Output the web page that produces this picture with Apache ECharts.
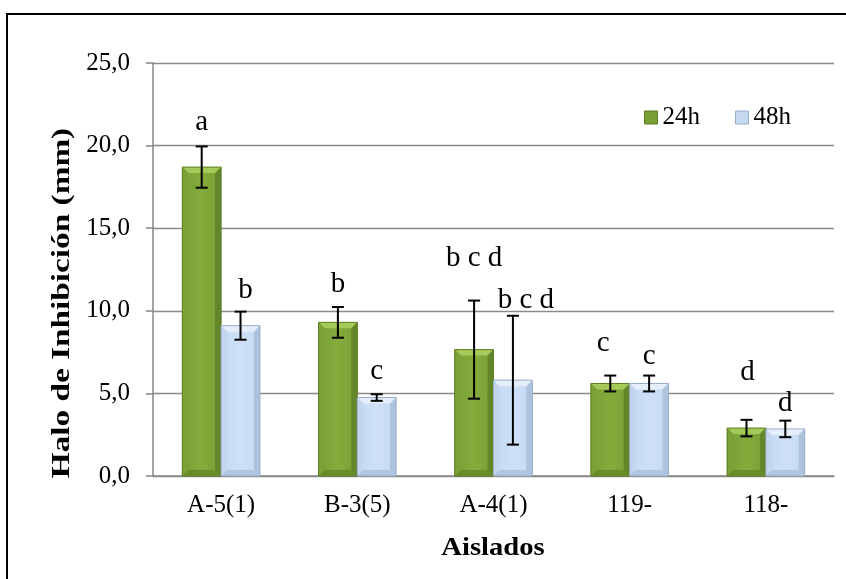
<!DOCTYPE html>
<html>
<head>
<meta charset="utf-8">
<script src="https://cdn.jsdelivr.net/npm/echarts@6/dist/echarts.min.js"></script>
<style>
  html, body { margin: 0; padding: 0; background: #fff; }
  #chart { width: 846px; height: 579px; }
</style>
</head>
<body>
<div id="chart"></div>
<script>
// Inhibition halo (mm) per isolate, after 24 h and 48 h
const categories = ['A-5(1)', 'B-3(5)', 'A-4(1)', '119-', '118-'];
const halo24 = [18.7, 9.3, 7.65, 5.6, 2.9];
const halo48 = [9.1, 4.75, 5.8, 5.6, 2.85];
const err24 = [1.25, 0.93, 2.97, 0.48, 0.5];
const err48 = [0.85, 0.2, 3.9, 0.48, 0.5];
const letters24 = ['a', 'b', 'b c d', 'c', 'd'];
const letters48 = ['b', 'c', 'b c d', 'c', 'd'];
const yTicks = [0, 5, 10, 15, 20, 25];

// Placement of the significance letters: [dx, dy] in px from the top of each error bar
const letterShift24 = [[0, -16], [0, -14], [0, -34], [-7, -24], [1, -39]];
const letterShift48 = [[5, -13], [0, -14], [13, -7], [0, -11], [0, -9]];

const FONT = '"Liberation Serif", "Times New Roman", serif';
const CAT_GAP = 0.43;

const green = {
  face: new echarts.graphic.LinearGradient(0, 0, 1, 0, [
    { offset: 0, color: '#6a8d2b' }, { offset: 0.15, color: '#7ca337' },
    { offset: 0.5, color: '#84ab3b' }, { offset: 0.85, color: '#7ca337' },
    { offset: 1, color: '#668828' }]),
  solid: '#7a9f33', top: '#a6ca5a', left: '#7ba236', right: '#64862a', bottom: '#6a8c29', edge: '#5c7d21'
};
const blue = {
  face: new echarts.graphic.LinearGradient(0, 0, 1, 0, [
    { offset: 0, color: '#b9cde6' }, { offset: 0.15, color: '#c7dbf4' },
    { offset: 0.5, color: '#cde0f7' }, { offset: 0.85, color: '#c7dbf4' },
    { offset: 1, color: '#b3c7e1' }]),
  solid: '#c6d9f1', top: '#e5eefb', left: '#c2d6ef', right: '#adc2dd', bottom: '#b2c6e0', edge: '#98adc9'
};

function barBox(api, cat, val, side) {
  const top = api.coord([cat, val]);
  const base = api.coord([cat, 0]);
  const bw = api.size([1, 0])[0] * (1 - CAT_GAP) / 2;
  const x0 = side === 0 ? top[0] - bw : top[0];
  return { x0: x0, x1: x0 + bw, y0: top[1], y1: base[1], cx: x0 + bw / 2 };
}

// Bevel edges drawn over each bar face
function bevelRenderer(side, pal) {
  return function (params, api) {
    const b = barBox(api, api.value(0), api.value(1), side);
    const s = Math.min(6, (b.y1 - b.y0) / 2);
    return {
      type: 'group', silent: true, children: [
        { type: 'polygon', shape: { points: [[b.x0, b.y0], [b.x1, b.y0], [b.x1 - s, b.y0 + s], [b.x0 + s, b.y0 + s]] }, style: { fill: pal.top } },
        { type: 'polygon', shape: { points: [[b.x0, b.y0], [b.x0 + s, b.y0 + s], [b.x0 + s, b.y1 - s], [b.x0, b.y1]] }, style: { fill: pal.left } },
        { type: 'polygon', shape: { points: [[b.x1, b.y0], [b.x1, b.y1], [b.x1 - s, b.y1 - s], [b.x1 - s, b.y0 + s]] }, style: { fill: pal.right } },
        { type: 'polygon', shape: { points: [[b.x0, b.y1], [b.x0 + s, b.y1 - s], [b.x1 - s, b.y1 - s], [b.x1, b.y1]] }, style: { fill: pal.bottom } },
        { type: 'rect', shape: { x: b.x0, y: b.y0, width: b.x1 - b.x0, height: b.y1 - b.y0 }, style: { fill: 'none', stroke: pal.edge, lineWidth: 1 } }
      ]
    };
  };
}

// Error bar (mean ± error) with its letter group above it
function errorRenderer(side, letters, shifts) {
  return function (params, api) {
    const i = params.dataIndex;
    const cat = api.value(0), val = api.value(1), err = api.value(2);
    const b = barBox(api, cat, val, side);
    const hi = api.coord([cat, val + err])[1];
    const lo = api.coord([cat, val - err])[1];
    const cap = 6;
    const lineStyle = { stroke: '#000', lineWidth: 2 };
    return {
      type: 'group', children: [
        { type: 'line', shape: { x1: b.cx, y1: hi, x2: b.cx, y2: lo }, style: lineStyle },
        { type: 'line', shape: { x1: b.cx - cap, y1: hi, x2: b.cx + cap, y2: hi }, style: lineStyle },
        { type: 'line', shape: { x1: b.cx - cap, y1: lo, x2: b.cx + cap, y2: lo }, style: lineStyle },
        {
          type: 'text',
          style: {
            text: letters[i], x: b.cx + shifts[i][0], y: hi + shifts[i][1] + 6,
            textAlign: 'center', textVerticalAlign: 'bottom',
            font: '29px ' + FONT, fill: '#000'
          }
        }
      ]
    };
  };
}

const chart = echarts.init(document.getElementById('chart'), null, { renderer: 'canvas' });

chart.setOption({
  animation: false,
  backgroundColor: '#fff',
  grid: { left: 153, right: 12, top: 63, bottom: 103, containLabel: false },
  legend: {
    left: 639, top: 100, itemWidth: 13, itemHeight: 13, itemGap: 35,
    icon: 'rect',
    textStyle: { fontFamily: FONT, fontSize: 25, color: '#000' },
    data: [
      { name: '24h', itemStyle: { color: green.solid, borderColor: green.edge, borderWidth: 1 } },
      { name: '48h', itemStyle: { color: blue.solid, borderColor: blue.edge, borderWidth: 1 } }
    ]
  },
  xAxis: {
    type: 'category',
    data: categories,
    axisLine: { lineStyle: { color: '#868686', width: 1.5 } },
    axisTick: { show: false },
    axisLabel: { fontFamily: FONT, fontSize: 25, color: '#000', margin: 17 }
  },
  yAxis: {
    type: 'value',
    min: yTicks[0], max: yTicks[yTicks.length - 1], interval: yTicks[1] - yTicks[0],
    axisLine: { show: true, lineStyle: { color: '#868686', width: 1.5 } },
    axisTick: { show: true, inside: false, length: 7, lineStyle: { color: '#868686', width: 1.5 } },
    splitLine: { lineStyle: { color: '#8a8a8a', width: 1.3 } },
    axisLabel: {
      fontFamily: FONT, fontSize: 25, color: '#000', margin: 23,
      formatter: v => v.toFixed(1).replace('.', ',')
    }
  },
  graphic: [
    { type: 'rect', shape: { x: 7, y: 14, width: 900, height: 700 }, style: { fill: 'none', stroke: '#000', lineWidth: 2 }, silent: true, z: 100 },
    {
      type: 'text', x: 62, y: 303, rotation: Math.PI / 2, scaleX: 1.28, silent: true,
      style: { text: 'Halo de Inhibición (mm)', font: 'bold 26px ' + FONT, fill: '#000', textAlign: 'center', textVerticalAlign: 'middle' }
    },
    {
      type: 'text', x: 493, y: 548, scaleX: 1.1, silent: true,
      style: { text: 'Aislados', font: 'bold 26px ' + FONT, fill: '#000', textAlign: 'center', textVerticalAlign: 'middle' }
    }
  ],
  series: [
    {
      name: '24h', type: 'bar', data: halo24,
      barGap: '0%', barCategoryGap: (CAT_GAP * 100) + '%',
      itemStyle: { color: green.face }, z: 2
    },
    {
      name: '48h', type: 'bar', data: halo48,
      barGap: '0%', barCategoryGap: (CAT_GAP * 100) + '%',
      itemStyle: { color: blue.face }, z: 2
    },
    {
      type: 'custom', z: 3, silent: true,
      renderItem: bevelRenderer(0, green),
      data: halo24.map((v, i) => [i, v])
    },
    {
      type: 'custom', z: 3, silent: true,
      renderItem: bevelRenderer(1, blue),
      data: halo48.map((v, i) => [i, v])
    },
    {
      type: 'custom', z: 4, silent: true,
      renderItem: errorRenderer(0, letters24, letterShift24),
      data: halo24.map((v, i) => [i, v, err24[i]])
    },
    {
      type: 'custom', z: 4, silent: true,
      renderItem: errorRenderer(1, letters48, letterShift48),
      data: halo48.map((v, i) => [i, v, err48[i]])
    }
  ]
});
</script>
</body>
</html>
